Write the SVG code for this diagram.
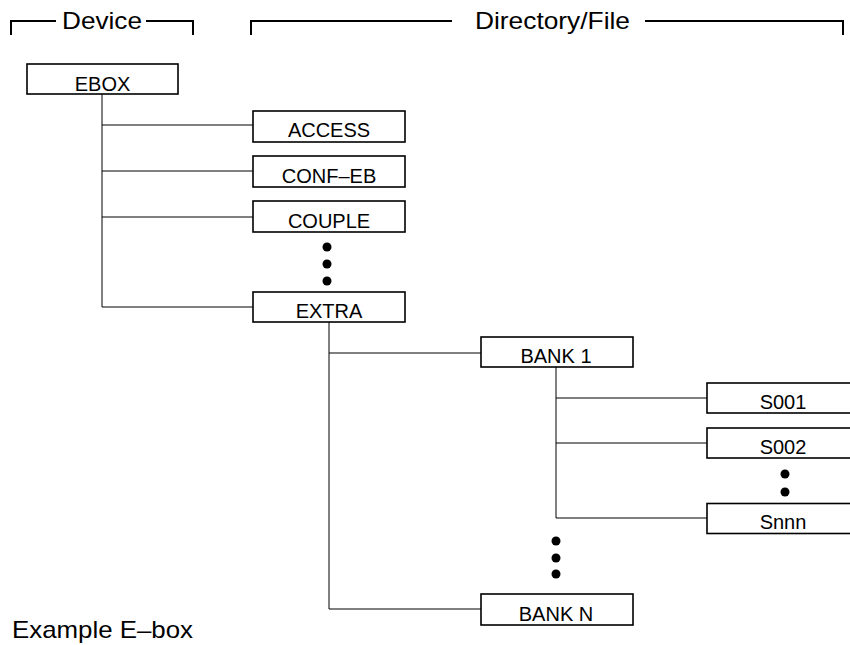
<svg xmlns="http://www.w3.org/2000/svg" width="850" height="645" viewBox="0 0 850 645">
<style>
  .box rect { fill: #fff; stroke: #000; stroke-width: 1.6; }
  .box text { font-family: "Liberation Sans", Arial, sans-serif; font-size: 20px; text-anchor: middle; fill: #000; }
  .hdr { fill: none; stroke: #000; stroke-width: 2; }
  .big { font-family: "Liberation Sans", Arial, sans-serif; font-size: 24px; fill: #000; }
  #connectors line { stroke: #000; stroke-width: 1; }
  .dot { fill: #000; }
</style>
<rect width="850" height="645" fill="#fff"/>
<g id="header">
  <polyline class="hdr" points="11,35 11,21 56,21"/>
  <polyline class="hdr" points="146,21 193,21 193,35"/>
  <text class="big" x="62" y="29" textLength="80" lengthAdjust="spacingAndGlyphs">Device</text>
  <polyline class="hdr" points="251,35 251,21 452,21"/>
  <polyline class="hdr" points="645,21 843,21 843,35"/>
  <text class="big" x="475" y="29" textLength="155" lengthAdjust="spacingAndGlyphs">Directory/File</text>
</g>
<g id="connectors">
  <line x1="102" y1="94" x2="102" y2="307"/>
  <line x1="102" y1="125" x2="253" y2="125"/>
  <line x1="102" y1="171" x2="253" y2="171"/>
  <line x1="102" y1="217" x2="253" y2="217"/>
  <line x1="102" y1="307" x2="253" y2="307"/>
  <line x1="329" y1="322" x2="329" y2="609"/>
  <line x1="329" y1="353" x2="481" y2="353"/>
  <line x1="329" y1="609" x2="481" y2="609"/>
  <line x1="556" y1="367" x2="556" y2="518"/>
  <line x1="556" y1="398" x2="707" y2="398"/>
  <line x1="556" y1="443" x2="707" y2="443"/>
  <line x1="556" y1="518" x2="707" y2="518"/>
</g>
<g id="ebox" class="box"><rect x="27" y="64" width="151" height="30"/><text x="102.5" y="91">EBOX</text></g>
<g id="access" class="box"><rect x="253" y="111" width="152" height="31"/><text x="329" y="137">ACCESS</text></g>
<g id="conf-eb" class="box"><rect x="253" y="156" width="152" height="31"/><text x="329" y="183">CONF–EB</text></g>
<g id="couple" class="box"><rect x="253" y="201" width="152" height="31"/><text x="329" y="228">COUPLE</text></g>
<g id="extra" class="box"><rect x="253" y="292" width="152" height="30"/><text x="329" y="318">EXTRA</text></g>
<g id="bank1" class="box"><rect x="481" y="337" width="152" height="30"/><text x="556" y="363">BANK 1</text></g>
<g id="bankn" class="box"><rect x="481" y="594" width="152" height="31"/><text x="556" y="621">BANK N</text></g>
<g id="s001" class="box"><rect x="707" y="383" width="152" height="30"/><text x="783" y="409">S001</text></g>
<g id="s002" class="box"><rect x="707" y="428" width="152" height="30"/><text x="783" y="454">S002</text></g>
<g id="snnn" class="box"><rect x="707" y="503.5" width="152" height="30"/><text x="783" y="529">Snnn</text></g>
<g id="ellipses">
  <circle class="dot" cx="327" cy="247" r="4.5"/>
  <circle class="dot" cx="327" cy="264" r="4.5"/>
  <circle class="dot" cx="327" cy="281" r="4.5"/>
  <circle class="dot" cx="556" cy="541" r="4.5"/>
  <circle class="dot" cx="556" cy="558" r="4.5"/>
  <circle class="dot" cx="556" cy="574" r="4.5"/>
  <circle class="dot" cx="785" cy="474" r="4.5"/>
  <circle class="dot" cx="785" cy="492" r="4.5"/>
</g>
<text class="big" x="12" y="638" textLength="181" lengthAdjust="spacingAndGlyphs">Example E–box</text>
</svg>
